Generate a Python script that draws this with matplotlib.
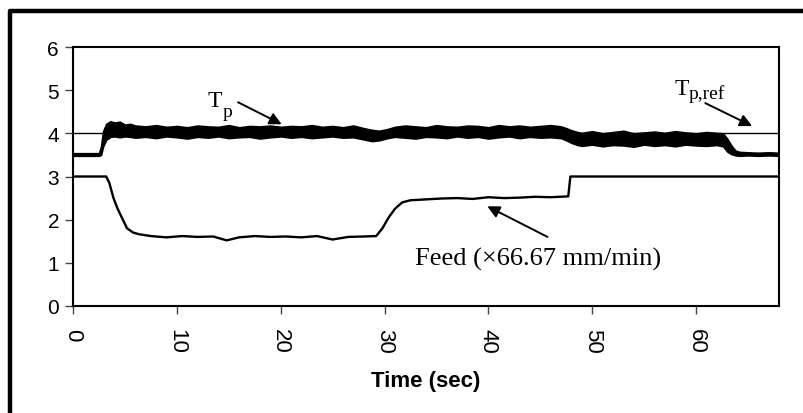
import matplotlib
matplotlib.use("Agg")
import matplotlib.pyplot as plt
from matplotlib.lines import Line2D

# ---- data ----
# Tp envelope (the signal is a noisy band, so keep upper / lower edge)
tp_time = [0, 1, 2, 2.5, 2.7, 2.9, 3.2, 3.6, 4.0, 4.5, 5, 5.5, 6, 7, 8, 9, 10, 11, 12,
           13, 14, 15, 16, 17, 18, 19, 20, 21, 22, 23, 24, 25, 26, 27, 28, 28.8,
           29.5, 30.3, 31, 32, 33, 34, 35, 36, 37, 38, 39, 40, 41, 42, 43, 44, 45,
           46, 47, 47.5, 48, 48.6, 49, 50, 51, 52, 53, 54, 55, 56, 57, 58, 59, 60,
           61, 62, 62.6, 63, 63.4, 63.8, 64.2, 65, 66, 67, 68]
tp_upper = [3.54, 3.54, 3.54, 3.54, 3.70, 4.05, 4.22, 4.28, 4.25, 4.27, 4.20, 4.22, 4.18,
            4.16, 4.19, 4.15, 4.17, 4.14, 4.18, 4.16, 4.15, 4.19, 4.14, 4.17, 4.16, 4.18,
            4.15, 4.17, 4.16, 4.19, 4.15, 4.17, 4.14, 4.18, 4.12, 4.08, 4.06, 4.10,
            4.15, 4.18, 4.16, 4.14, 4.19, 4.16, 4.15, 4.18, 4.17, 4.14, 4.19, 4.16,
            4.18, 4.15, 4.17, 4.19, 4.16, 4.12, 4.07, 4.03, 4.01, 4.05, 4.00, 4.03,
            4.06, 4.00, 4.02, 4.04, 4.01, 4.05, 4.02, 4.00, 4.03, 4.01, 4.00, 3.88,
            3.72, 3.60, 3.57, 3.56, 3.55, 3.56, 3.55]
tp_lower = [3.48, 3.48, 3.48, 3.48, 3.50, 3.70, 3.85, 3.92, 3.93, 3.91, 3.93, 3.92, 3.90,
            3.92, 3.89, 3.93, 3.91, 3.88, 3.92, 3.90, 3.93, 3.89, 3.91, 3.92, 3.88, 3.91,
            3.93, 3.90, 3.92, 3.89, 3.91, 3.93, 3.90, 3.91, 3.86, 3.82, 3.84, 3.89,
            3.92, 3.90, 3.88, 3.92, 3.91, 3.89, 3.93, 3.90, 3.92, 3.88, 3.91, 3.93,
            3.89, 3.92, 3.90, 3.91, 3.89, 3.84, 3.78, 3.73, 3.71, 3.74, 3.70, 3.73,
            3.72, 3.69, 3.74, 3.71, 3.73, 3.70, 3.74, 3.72, 3.71, 3.73, 3.70, 3.58,
            3.52, 3.49, 3.48, 3.49, 3.48, 3.49, 3.48]

# reference temperature
ref_time = [0, 68]
ref_value = [4.0, 4.0]

# feed (x66.67 mm/min)
feed_time = [0, 3.2, 3.5, 3.9, 4.3, 4.7, 5.2, 5.8, 6.4, 7.5, 9, 10.5, 12, 13.5, 14.8,
             16, 17.5, 19, 20.5, 22, 23.5, 25, 26.5, 28, 29.2, 29.8, 30.4, 31,
             31.7, 32.5, 34, 35.5, 37, 38.5, 40, 41.5, 43, 44.5, 46, 47.7, 47.9, 68]
feed_value = [3.0, 3.0, 2.85, 2.5, 2.25, 2.05, 1.8, 1.7, 1.66, 1.62, 1.59, 1.62, 1.60,
              1.61, 1.52, 1.59, 1.62, 1.60, 1.61, 1.59, 1.62, 1.54, 1.60, 1.61, 1.62,
              1.8, 2.05, 2.25, 2.4, 2.45, 2.47, 2.49, 2.50, 2.48, 2.52, 2.50, 2.51,
              2.53, 2.52, 2.54, 3.0, 3.0]

x_ticks = [0, 10, 20, 30, 40, 50, 60]
y_ticks = [0, 1, 2, 3, 4, 5, 6]

fig = plt.figure(figsize=(8.04, 4.14), dpi=100)
ax = fig.add_axes([0.0908, 0.2585, 0.8782, 0.6255])

ax.plot(ref_time, ref_value, color='black', lw=1.0, zorder=2)
ax.fill_between(tp_time, tp_lower, tp_upper, color='black', lw=1.2, zorder=3)
ax.plot(feed_time, feed_value, color='black', lw=1.7, zorder=3)

ax.set_xlim(0, 68)
ax.set_ylim(0, 6)
ax.set_xticks(x_ticks)
ax.set_yticks(y_ticks)
ax.set_xticklabels([str(v) for v in x_ticks], rotation=-90,
                   family='Liberation Sans', fontsize=16)
ax.set_yticklabels([str(v) for v in y_ticks], family='Liberation Sans', fontsize=15)
ax.tick_params(axis='both', direction='out', length=6, width=1, color='#444444')
ax.tick_params(axis='x', pad=10)
ax.tick_params(axis='y', pad=4)
for s in ax.spines.values():
    s.set_linewidth(1.5)

ax.set_xlabel('Time (sec)', fontsize=16, fontweight='bold',
              family='Liberation Sans', labelpad=12)

arrow = dict(arrowstyle='-|>', color='black', lw=1.4, mutation_scale=18,
             shrinkA=0, shrinkB=0)
serif = 'Liberation Serif'

# Tp label with its arrow
t1 = ax.text(13.0, 4.63, 'T', fontsize=17, family=serif, ha='left', va='baseline')
ax.annotate('p', xy=(1.0, 0.0), xycoords=t1, fontsize=14, family=serif,
            ha='left', va='center')
ax.annotate('', xy=(20.1, 4.21), xytext=(15.9, 4.72), arrowprops=arrow)

# Tp,ref label with its arrow
t2 = ax.text(57.9, 4.91, 'T', fontsize=17, family=serif, ha='left', va='baseline')
ax.annotate('p,ref', xy=(1.0, 0.28), xycoords=t2, fontsize=14, family=serif,
            ha='left', va='center')
ax.annotate('', xy=(65.4, 4.17), xytext=(60.9, 4.70), arrowprops=arrow)

# Feed label with its arrow
ax.text(32.9, 0.97, 'Feed (\u00d766.67 mm/min)', fontsize=19, family=serif,
        ha='left', va='baseline')
ax.annotate('', xy=(39.9, 2.31), xytext=(45.7, 1.60), arrowprops=arrow)

# thick outer frame (top and left edge of the original figure box)
fig.add_artist(Line2D([0.0125, 0.0125, 1.01], [-0.01, 0.972, 0.972],
                      transform=fig.transFigure, color='black', lw=3.2))

fig.savefig('out.png', dpi=100)
